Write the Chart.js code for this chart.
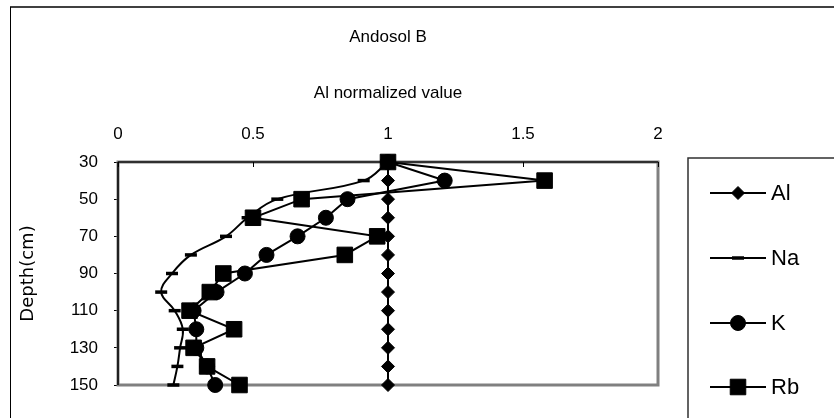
<!DOCTYPE html>
<html>
<head>
<meta charset="utf-8">
<script src="https://cdn.jsdelivr.net/npm/chart.js@4"></script>
<style>
html,body{margin:0;padding:0;background:#fff}
#wrap{width:834px;height:418px;position:relative}
</style>
</head>
<body>
<div id="wrap"><canvas id="c"></canvas></div>
<script>
let depths = [30,40,50,60,70,80,90,100,110,120,130,140,150]
let alValues = [1,1,1,1,1,1,1,1,1,1,1,1,1]
let naValues = [1,0.91,0.59,0.48,0.40,0.27,0.20,0.16,0.21,0.24,0.23,0.22,0.205]
let kValues = [1,1.21,0.85,0.77,0.665,0.55,0.47,0.365,0.28,0.29,0.29,0.33,0.36]
let rbValues = [1,1.58,0.68,0.50,0.96,0.84,0.39,0.34,0.265,0.43,0.28,0.33,0.45]
let seriesNames = ["Al","Na","K","Rb"]
let xTicks = [0,0.5,1,1.5,2]
let titleLines = ["Andosol B","","Al normalized value"]

function toPoints(vals){
return vals.map((v,i)=>({x:v,y:depths[i]}))
}

let styles = [
{pointStyle:"rectRot",pointRadius:6.5,pointBorderWidth:1,tension:0},
{pointStyle:"line",pointRadius:6,pointBorderWidth:3.5,tension:0.4},
{pointStyle:"circle",pointRadius:7.5,pointBorderWidth:1,tension:0},
{pointStyle:"rect",pointRadius:11,pointBorderWidth:1,tension:0}
]

let allValues = [alValues,naValues,kValues,rbValues]

let datasets = allValues.map((vals,i)=>({
label: seriesNames[i],
data: toPoints(vals),
showLine:true,
borderColor:"#000",
backgroundColor:"#000",
pointBackgroundColor:"#000",
pointBorderColor:"#000",
borderWidth:2,
pointStyle: styles[i].pointStyle,
pointRadius: styles[i].pointRadius,
pointBorderWidth: styles[i].pointBorderWidth,
tension: styles[i].tension,
clip:false
}))

let FONT = "'Liberation Sans', Arial, sans-serif"

// frame, inner ticks and the legend box
let framePlugin = {
id:"frame",
beforeDraw(chart){
let ctx = chart.ctx
ctx.save()
ctx.fillStyle="#fff"
ctx.fillRect(0,0,chart.width,chart.height)
ctx.strokeStyle="#404040"
ctx.lineWidth=2
ctx.beginPath()
ctx.moveTo(10,7)
ctx.lineTo(chart.width,7)
ctx.stroke()
ctx.strokeStyle="#000"
ctx.lineWidth=1
ctx.beginPath()
ctx.moveTo(10.5,7)
ctx.lineTo(10.5,chart.height)
ctx.stroke()
ctx.restore()
},
beforeDatasetsDraw(chart){
let ctx = chart.ctx
let a = chart.chartArea
ctx.save()
ctx.strokeStyle="#808080"
ctx.lineWidth=3
ctx.strokeRect(a.left,a.top,a.right-a.left,a.bottom-a.top)
ctx.strokeStyle="#303030"
ctx.lineWidth=2
ctx.beginPath()
ctx.moveTo(a.left,a.top)
ctx.lineTo(a.right,a.top)
ctx.stroke()
ctx.strokeStyle="#000"
ctx.lineWidth=1.5
ctx.beginPath()
ctx.moveTo(a.left,a.top)
ctx.lineTo(a.left,a.bottom)
ctx.stroke()
let xs = chart.scales.x
ctx.lineWidth=1
ctx.beginPath()
xTicks.forEach(t=>{
let px = Math.round(xs.getPixelForValue(t))+0.5
ctx.moveTo(px,a.top)
ctx.lineTo(px,a.top+5)
})
ctx.stroke()
ctx.restore()
},
afterDraw(chart){
let ctx = chart.ctx
ctx.save()
ctx.strokeStyle="#303030"
ctx.lineWidth=1.5
ctx.beginPath()
ctx.moveTo(688,chart.height)
ctx.lineTo(688,158)
ctx.lineTo(chart.width,158)
ctx.stroke()
let rows = [193,258,323,387]
chart.data.datasets.forEach((ds,i)=>{
let y = rows[i]
ctx.strokeStyle="#000"
ctx.lineWidth=2
ctx.beginPath()
ctx.moveTo(710,y)
ctx.lineTo(766,y)
ctx.stroke()
ctx.fillStyle="#000"
ctx.strokeStyle="#000"
ctx.lineWidth=ds.pointBorderWidth
Chart.helpers.drawPoint(ctx,{pointStyle:ds.pointStyle,radius:ds.pointRadius,rotation:0,borderWidth:ds.pointBorderWidth},738,y)
ctx.font="22px " + FONT
ctx.textAlign="left"
ctx.textBaseline="middle"
ctx.fillText(ds.label,771,y+1)
})
ctx.restore()
}
}

new Chart(document.getElementById("c"),{
type:"scatter",
data:{datasets:datasets},
plugins:[framePlugin],
options:{
responsive:true,
maintainAspectRatio:false,
animation:false,
layout:{padding:{left:0,top:0,right:176,bottom:33}},
plugins:{
legend:{display:false},
tooltip:{enabled:false},
title:{display:false}
},
scales:{
x:{
type:"linear",
position:"top",
min:0,
max:2,
afterFit(s){ s.height = 162 },
ticks:{stepSize:0.5,color:"#000",padding:17,font:{family:FONT,size:17},
callback:(v)=>String(v)},
grid:{drawOnChartArea:false,drawTicks:false},
border:{display:false},
title:{display:true,text:titleLines,color:"#000",padding:{top:23,bottom:0},
font:{family:FONT,size:17,lineHeight:"28px"}}
},
y:{
type:"linear",
reverse:true,
min:30,
max:150,
afterFit(s){ s.width = 118 },
ticks:{stepSize:20,color:"#000",padding:16,font:{family:FONT,size:17}},
grid:{drawOnChartArea:false,tickLength:4,color:"#000"},
border:{display:false},
title:{display:true,text:"Depth(cm)",color:"#000",padding:{top:17.5,bottom:0},font:{family:"'DejaVu Sans', sans-serif",size:18}}
}
}
}
})
</script>
</body>
</html>
